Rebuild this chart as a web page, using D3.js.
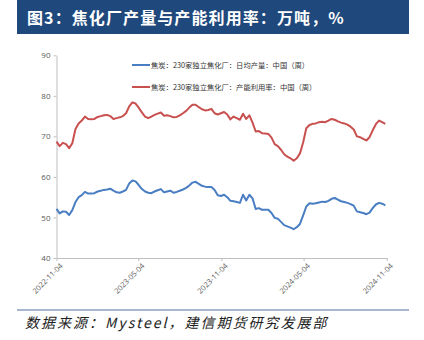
<!DOCTYPE html>
<html><head><meta charset="utf-8">
<script src="https://cdn.jsdelivr.net/npm/d3@7"></script>
<style>body{margin:0;background:#fff;}svg{display:block;font-family:"Noto Sans CJK SC","Noto Sans",sans-serif;}</style>
</head><body><svg id="c" width="424" height="340"></svg>
<script>
const title = "图3：焦化厂产量与产能利用率：万吨，%";
const source = "数据来源：Mysteel，建信期货研究发展部";
const seriesNames = ["焦炭：230家独立焦化厂：日均产量：中国（周）", "焦炭：230家独立焦化厂：产能利用率：中国（周）"];
const startDate = "2022-11-04";
const xTickLabels = ["2022-11-04", "2023-05-04", "2023-11-04", "2024-05-04", "2024-11-04"];
const yTicks = [40, 50, 60, 70, 80, 90];
const output = [52.1,51.0,51.5,51.4,50.6,51.8,53.8,55.0,55.5,56.3,55.9,55.9,56.0,56.4,56.6,56.8,56.9,57.1,56.6,56.2,
56.1,56.4,56.8,58.4,59.1,58.9,58.0,57.0,56.4,56.1,56.0,56.4,56.7,57.0,56.2,56.4,56.6,56.1,56.3,56.6,
56.9,57.3,57.9,58.6,58.8,58.3,57.8,57.6,57.5,57.5,56.8,55.5,55.3,55.6,55.0,54.1,54.0,53.8,53.6,55.6,
54.2,55.6,54.7,52.1,52.3,51.9,51.9,51.9,51.1,49.9,49.7,48.9,48.1,47.8,47.5,47.1,47.6,48.4,50.5,52.7,
53.5,53.4,53.5,53.7,53.9,53.8,54.1,54.6,54.8,54.4,54.0,53.8,53.6,53.3,52.9,51.5,51.3,51.1,50.8,51.2,
52.3,53.2,53.6,53.4,53.0];
const utilization = [68.7,67.6,68.4,68.1,67.1,68.3,71.8,73.2,73.9,74.9,74.3,74.2,74.3,74.8,75.0,75.2,75.3,75.0,74.3,74.5,
74.7,75.0,75.7,77.4,78.4,78.1,77.1,75.9,74.9,74.5,74.9,75.3,75.6,75.9,75.1,75.2,75.0,74.7,74.8,75.2,
75.7,76.3,77.1,77.8,77.8,77.2,76.7,76.4,76.5,76.8,75.7,75.4,75.7,76.0,75.4,74.2,74.9,74.5,74.1,75.6,
74.3,75.2,73.4,71.2,71.3,70.8,70.7,70.6,69.7,68.1,67.6,66.7,65.6,65.0,64.6,64.0,64.6,65.8,68.5,72.0,
72.8,73.1,73.2,73.5,73.6,73.5,73.9,74.3,74.1,73.7,73.4,73.2,72.9,72.4,71.7,70.0,69.8,69.4,69.0,69.8,
71.5,73.0,73.9,73.5,73.1];
const colors = ["#4A7EC2", "#C8504E"];

const parse = d3.timeParse("%Y-%m-%d");
const t0 = parse(startDate);
const dates = output.map((_, i) => d3.timeDay.offset(t0, i * 7));

const svg = d3.select("#c");
// title bar
svg.append("rect").attr("x", 17).attr("y", 0).attr("width", 392).attr("height", 34).attr("fill", "#1F497D");
svg.append("text").attr("x", 27).attr("y", 24).attr("fill", "#fff").attr("font-size", 16).attr("font-weight", "bold")
  .attr("letter-spacing", 1.1).text(title);

const x = d3.scaleTime().domain([parse(xTickLabels[0]), parse(xTickLabels[4])]).range([56.5, 386.7]);
const y = d3.scaleLinear().domain([40, 90]).range([258, 55.3]);

const xAxis = d3.axisBottom(x).tickValues(xTickLabels.map(parse)).tickSize(3).tickSizeOuter(0).tickFormat(d3.timeFormat("%Y-%m-%d"));
const gx = svg.append("g").attr("transform", "translate(0,258)").call(xAxis);
gx.select(".domain").attr("stroke", "#BFBFBF").attr("d", "M56.5,0.5H388");
gx.selectAll(".tick line").attr("stroke", "#BFBFBF");
gx.selectAll("text").attr("fill", "#595959").attr("font-size", 7.5).attr("font-family", "Open Sans, sans-serif")
  .attr("text-anchor", "end").attr("transform", "rotate(-45)").attr("dx", "-0.2em").attr("dy", "0.6em");

const yAxis = d3.axisLeft(y).tickValues(yTicks).tickSize(3).tickSizeOuter(0);
const gy = svg.append("g").attr("transform", "translate(56.5,0)").call(yAxis);
gy.select(".domain").attr("stroke", "#BFBFBF");
gy.selectAll(".tick line").attr("stroke", "#BFBFBF");
gy.selectAll("text").attr("fill", "#595959").attr("font-size", 8).attr("font-family", "Open Sans, sans-serif");

const line = d3.line().x((d, i) => x(dates[i])).y(d => y(d)).curve(d3.curveLinear);
[output, utilization].forEach((s, k) => {
  svg.append("path").datum(s).attr("d", line).attr("fill", "none").attr("stroke", colors[k])
    .attr("stroke-width", 2).attr("stroke-linejoin", "round");
});

// legend
seriesNames.forEach((n, k) => {
  const ly = 65 + k * 22;
  svg.append("line").attr("x1", 132).attr("x2", 150).attr("y1", ly).attr("y2", ly).attr("stroke", colors[k]).attr("stroke-width", 2);
  svg.append("text").attr("x", 151).attr("y", ly + 2.6).attr("font-size", 7.3).attr("fill", "#333").text(n);
});

// footer
svg.append("line").attr("x1", 17).attr("x2", 409).attr("y1", 310).attr("y2", 310).attr("stroke", "#4F6F9A").attr("stroke-width", 1);
svg.append("text").attr("x", 25).attr("y", 328).attr("font-size", 14).attr("font-style", "italic").attr("fill", "#222")
  .attr("letter-spacing", 2).text(source);
</script></body></html>
